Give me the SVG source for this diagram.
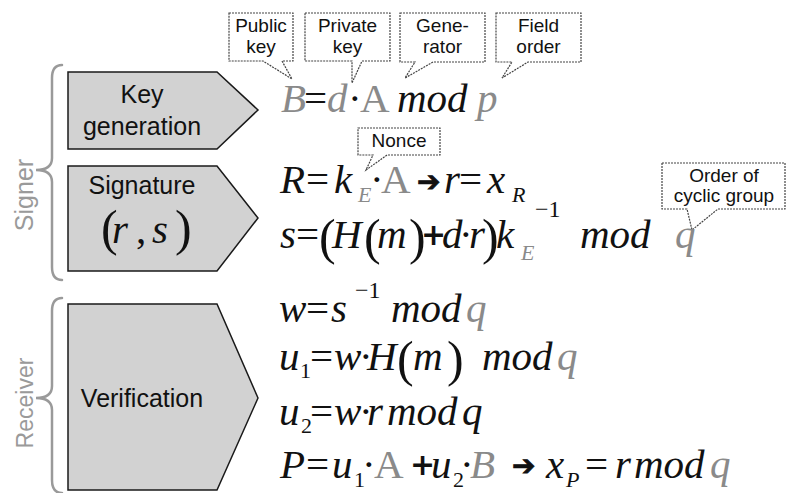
<svg xmlns="http://www.w3.org/2000/svg" width="787" height="493" viewBox="0 0 787 493">
<style>
.bg{fill:#ffffff}
.step{fill:#d2d2d2;stroke:#1a1a1a;stroke-width:1.5;stroke-linejoin:miter}
.lbl{font-family:"Liberation Sans",Arial,sans-serif;font-size:25px;fill:#111;text-anchor:middle}
.role{font-family:"Liberation Sans",Arial,sans-serif;fill:#9a9a9a;text-anchor:middle}
.brace{fill:none;stroke:#9a9a9a;stroke-width:2.5;stroke-linecap:round}
.call{fill:#ffffff;stroke:#444;stroke-width:1.2;stroke-dasharray:2 1;stroke-linejoin:miter}
.ct{font-family:"Liberation Sans",Arial,sans-serif;font-size:19px;fill:#111;text-anchor:middle}
.eq{font-family:"Liberation Serif","Times New Roman",serif;font-size:41px;font-style:italic;fill:#111}
.up{font-style:normal}
.g{fill:#8a8a8a}
.sub{font-size:22px}
.sup{font-size:24px;font-style:normal}
.big{font-size:50px;font-style:normal}
.plus{font-family:"DejaVu Sans",sans-serif;font-size:30px;font-weight:bold;font-style:normal}
.arr{font-family:"DejaVu Sans",sans-serif;font-size:28px;font-style:normal;font-weight:bold;stroke:#111;stroke-width:0.8}
</style>
<rect class="bg" x="0" y="0" width="787" height="493"/>

<g id="signer-brace">
  <path class="brace" d="M62,65 C55,65 52,69 52,78 L52,158 C52,166 47,170 36,170 C47,170 52,174 52,182 L52,267 C52,276 55,280 62,280"/>
  <text class="role" font-size="25" transform="translate(33,195) rotate(-90)">Signer</text>
</g>
<g id="receiver-brace">
  <path class="brace" d="M62,298 C55,298 52,302 52,311 L52,386 C52,394 47,398 36,398 C47,398 52,402 52,410 L52,480 C52,489 55,493 62,493"/>
  <text class="role" font-size="23" transform="translate(33,403) rotate(-90)">Receiver</text>
</g>

<g id="key-generation">
  <polygon class="step" points="68,72 217,72 258,110 217,149 68,149"/>
  <text class="lbl" x="142" y="103">Key</text>
  <text class="lbl" x="142" y="135">generation</text>
</g>
<g id="signature">
  <polygon class="step" points="68,166 217,166 258,218 217,271 68,271"/>
  <text class="lbl" x="142" y="194">Signature</text>
  <text class="eq"><tspan class="big" x="101" y="245" font-size="46">(</tspan><tspan x="112" y="243">r</tspan><tspan class="up" x="136" y="243">,</tspan><tspan x="152" y="243">s</tspan><tspan class="big" x="175" y="245" font-size="46">)</tspan></text>
</g>
<g id="verification">
  <polygon class="step" points="68,304 217,304 258,398 217,490 68,490"/>
  <text class="lbl" x="142" y="407">Verification</text>
</g>

<g id="callout-public-key">
  <path class="call" d="M229,13 H293 V61 H282 L292,79 L263,61 H229 Z"/>
  <text class="ct" x="261" y="32">Public</text>
  <text class="ct" x="261" y="53">key</text>
</g>
<g id="callout-private-key">
  <path class="call" d="M305,13 H390 V61 H362 L352,83 L352,61 H305 Z"/>
  <text class="ct" x="347.5" y="32">Private</text>
  <text class="ct" x="347.5" y="53">key</text>
</g>
<g id="callout-generator">
  <path class="call" d="M400,13 H485 V62 H433 L405,78 L415,62 H400 Z"/>
  <text class="ct" x="442.5" y="32">Gene-</text>
  <text class="ct" x="442.5" y="53">rator</text>
</g>
<g id="callout-field-order">
  <path class="call" d="M496,13 H581 V62 H528 L502,78 L512,62 H496 Z"/>
  <text class="ct" x="538.5" y="32">Field</text>
  <text class="ct" x="538.5" y="53">order</text>
</g>
<g id="callout-nonce">
  <path class="call" d="M358,128 H440 V155 H387 L366,170 L373,155 H358 Z"/>
  <text class="ct" x="399" y="147">Nonce</text>
</g>
<g id="callout-order-cyclic-group">
  <path class="call" d="M662,163 H785 V209 H718 L692,230 L687,209 H662 Z"/>
  <text class="ct" x="724" y="182">Order of</text>
  <text class="ct" x="724" y="202">cyclic group</text>
</g>

<g id="equations">
  <text class="eq"><tspan class="g" x="281" y="112">B</tspan><tspan class="up" x="304" y="112">=</tspan><tspan class="g" x="327" y="112">d</tspan><tspan class="up" x="348" y="112">·</tspan><tspan class="g up" x="360" y="112">A</tspan><tspan x="397" y="112">mod</tspan><tspan class="g" x="477" y="112">p</tspan></text>

  <text class="eq"><tspan x="280" y="193">R</tspan><tspan class="up" x="306" y="193">=</tspan><tspan x="334" y="193">k</tspan><tspan class="sub g" x="358" y="202">E</tspan><tspan class="up" x="370" y="193">·</tspan><tspan class="g up" x="381" y="193">A</tspan><tspan class="arr" x="417" y="191">➔</tspan><tspan x="444" y="193">r</tspan><tspan class="up" x="459" y="193">=</tspan><tspan x="487" y="193">x</tspan><tspan class="sub" x="512" y="202">R</tspan></text>

  <text class="eq"><tspan x="280" y="248">s</tspan><tspan class="up" x="296" y="248">=</tspan><tspan class="big" x="319" y="254">(</tspan><tspan x="332" y="248">H</tspan><tspan class="big" x="364" y="254">(</tspan><tspan x="377" y="248">m</tspan><tspan class="big" x="409" y="254">)</tspan><tspan class="plus" x="421" y="245">+</tspan><tspan x="442" y="248">d</tspan><tspan class="up" x="459" y="248">·</tspan><tspan x="469" y="248">r</tspan><tspan class="big" x="482" y="254">)</tspan><tspan x="496" y="248">k</tspan><tspan class="sub g" x="521" y="260">E</tspan><tspan class="sup" x="535" y="217">−1</tspan><tspan x="580" y="248">mod</tspan><tspan class="g" x="675" y="248">q</tspan></text>

  <text class="eq"><tspan x="279" y="322">w</tspan><tspan class="up" x="306" y="322">=</tspan><tspan x="331" y="322">s</tspan><tspan class="sup" x="355" y="298">−1</tspan><tspan x="391" y="322">mod</tspan><tspan class="g" x="466" y="322">q</tspan></text>

  <text class="eq"><tspan x="279" y="370">u</tspan><tspan class="sub up" x="300" y="378">1</tspan><tspan class="up" x="310" y="370">=</tspan><tspan x="334" y="370">w</tspan><tspan class="up" x="359" y="370">·</tspan><tspan x="367" y="370">H</tspan><tspan class="big" x="397" y="376">(</tspan><tspan x="413" y="370">m</tspan><tspan class="big" x="447" y="376">)</tspan><tspan x="482" y="370">mod</tspan><tspan class="g" x="557" y="370">q</tspan></text>

  <text class="eq"><tspan x="279" y="425">u</tspan><tspan class="sub up" x="301" y="433">2</tspan><tspan class="up" x="310" y="425">=</tspan><tspan x="334" y="425">w</tspan><tspan class="up" x="359" y="425">·</tspan><tspan x="367" y="425">r</tspan><tspan x="387" y="425">mod</tspan><tspan x="462" y="425">q</tspan></text>

  <text class="eq"><tspan x="280" y="478">P</tspan><tspan class="up" x="306" y="478">=</tspan><tspan x="332" y="478">u</tspan><tspan class="sub up" x="354" y="487">1</tspan><tspan class="up" x="362" y="478">·</tspan><tspan class="g up" x="374" y="478">A</tspan><tspan class="plus" x="410" y="475">+</tspan><tspan x="431" y="478">u</tspan><tspan class="sub up" x="453" y="487">2</tspan><tspan class="up" x="460" y="478">·</tspan><tspan class="g" x="470" y="478">B</tspan><tspan class="arr" x="512" y="475">➔</tspan><tspan x="546" y="478">x</tspan><tspan class="sub" x="566" y="487">P</tspan><tspan class="up" x="585" y="478">=</tspan><tspan x="615" y="478">r</tspan><tspan x="634" y="478">mod</tspan><tspan class="g" x="710" y="478">q</tspan></text>
</g>

<g id="connectors"></g>
</svg>
